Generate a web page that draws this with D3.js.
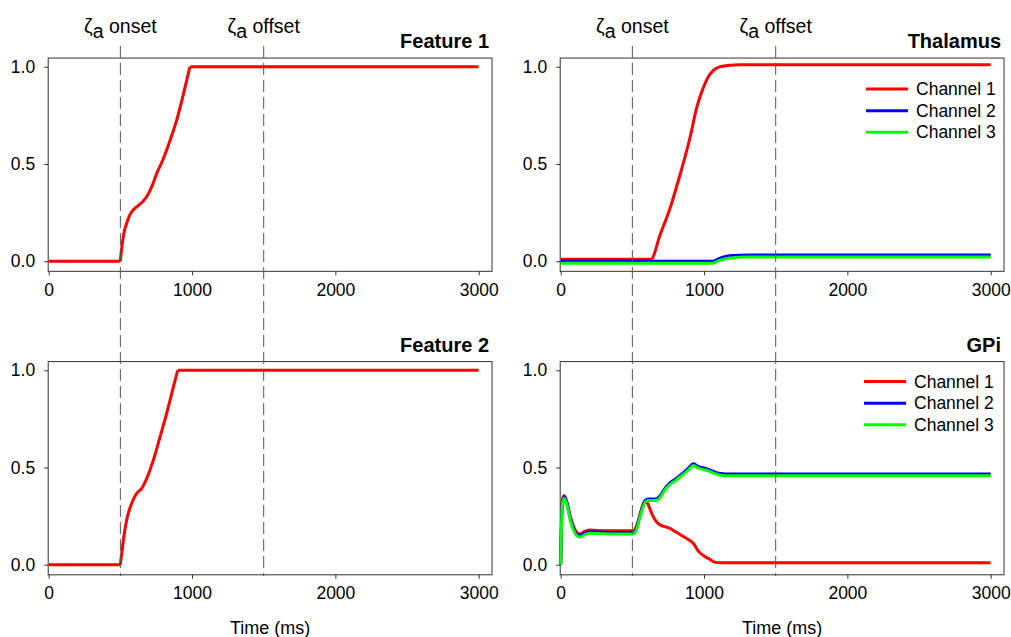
<!DOCTYPE html>
<html>
<head>
<meta charset="utf-8">
<script src="https://cdn.jsdelivr.net/npm/d3@7"></script>
<style>
  body { margin: 0; background: #fff; }
  svg { font-family: "Liberation Sans", Arial, sans-serif; }
</style>
</head>
<body>
<div id="chart"></div>
<script>
// ---- data ----
const timeTicks = [0, 1000, 2000, 3000];
const valueTicks = [0, 0.5, 1.0];
const onsetTime = 500;
const offsetTime = 1500;

const channelNames = ['Channel 1', 'Channel 2', 'Channel 3'];
const channelColors = ['#ff0000', '#0000ff', '#00ff00'];

const feature1Time  = [0, 500, 510, 521, 544, 567, 595, 614, 637, 660, 684, 720, 754, 790, 823, 860, 893, 940, 985, 3000];
const feature1Value = [0, 0, 0.07, 0.13, 0.195, 0.24, 0.268, 0.28, 0.293, 0.31, 0.332, 0.385, 0.452, 0.51, 0.572, 0.65, 0.726, 0.86, 1.0, 1.0];

const feature2Time  = [0, 500, 510, 521, 544, 579, 614, 649, 684, 730, 777, 823, 870, 900, 3000];
const feature2Value = [0, 0, 0.06, 0.127, 0.23, 0.316, 0.367, 0.393, 0.444, 0.538, 0.658, 0.778, 0.915, 1.0, 1.0];

const thalTime1 = [0, 630, 693, 763, 833, 902, 949, 995, 1042, 1080, 1112, 1181, 1250, 3000];
const thalCh1   = [0.01, 0.01, 0.135, 0.273, 0.446, 0.635, 0.79, 0.893, 0.962, 0.99, 1.0, 1.008, 1.01, 1.01];
const thalTime23 = [0, 1065, 1100, 1150, 1200, 1250, 1300, 3000];
const thalCh2   = [0, 0, 0.012, 0.024, 0.029, 0.031, 0.032, 0.032];
const thalCh3   = [-0.01, -0.01, 0.002, 0.013, 0.018, 0.02, 0.021, 0.021];

const gpiTime = [0, 5, 12, 23, 40, 70, 100, 130, 170, 204, 250, 350, 500, 515, 530, 550, 570, 590, 610, 640, 670, 700, 720, 760, 800, 850, 890, 925, 960, 1000, 1040, 1080, 1120, 1160, 1200, 3000];
const gpiCh1 = [0, 0.2, 0.33, 0.356, 0.33, 0.24, 0.18, 0.158, 0.172, 0.179, 0.176, 0.174, 0.174, 0.178, 0.2, 0.25, 0.3, 0.33, 0.31, 0.255, 0.22, 0.202, 0.197, 0.188, 0.17, 0.148, 0.13, 0.11, 0.07, 0.045, 0.028, 0.012, 0.01, 0.01, 0.01, 0.01];
const gpiCh2 = [0, 0.19, 0.32, 0.35, 0.325, 0.23, 0.17, 0.15, 0.163, 0.17, 0.168, 0.166, 0.166, 0.17, 0.19, 0.245, 0.295, 0.33, 0.338, 0.338, 0.34, 0.36, 0.385, 0.42, 0.44, 0.47, 0.495, 0.519, 0.505, 0.498, 0.488, 0.475, 0.469, 0.466, 0.466, 0.466];
const gpiCh3 = [0, 0.18, 0.31, 0.342, 0.317, 0.22, 0.162, 0.142, 0.155, 0.162, 0.16, 0.158, 0.158, 0.162, 0.182, 0.237, 0.287, 0.322, 0.33, 0.33, 0.332, 0.352, 0.377, 0.412, 0.432, 0.462, 0.487, 0.51, 0.497, 0.489, 0.48, 0.467, 0.46, 0.457, 0.457, 0.457];

// ---- layout ----
const W = 1011, H = 637;
const colX0 = [48.7, 560.7];     // pixel of t = 0
const rowY0 = [261.2, 564.7];    // pixel of value = 0
const plotW = 430, unitH = 194.4;
const FONT = '"Liberation Sans", Arial, sans-serif';

const zip = (t, v) => t.map((d, i) => ({ t: d, v: v[i] }));

// feature curves: flat - smooth rise - flat, split so the corners stay sharp
const splitFlat = data => {
  const a = data.findIndex((d, i) => i > 0 && d.v !== data[0].v) - 1;
  const last = data[data.length - 1].v;
  const b = data.findIndex(d => d.v === last);
  return [
    { pts: data.slice(0, a + 1), curve: d3.curveLinear },
    { pts: data.slice(a, b + 1), curve: d3.curveMonotoneX },
    { pts: data.slice(b), curve: d3.curveLinear }
  ];
};

const panels = [
  { col: 0, row: 0, title: 'Feature 1', legend: null, split: true,
    series: [{ data: zip(feature1Time, feature1Value), color: channelColors[0] }] },
  { col: 0, row: 1, title: 'Feature 2', legend: null, split: true,
    series: [{ data: zip(feature2Time, feature2Value), color: channelColors[0] }] },
  { col: 1, row: 0, title: 'Thalamus', legend: { dx: 138, dy: 31 }, split: false,
    series: [
      { data: zip(thalTime1, thalCh1), color: channelColors[0] },
      { data: zip(thalTime23, thalCh2), color: channelColors[1] },
      { data: zip(thalTime23, thalCh3), color: channelColors[2] }
    ] },
  { col: 1, row: 1, title: 'GPi', legend: { dx: 140, dy: 20 }, split: false,
    series: [
      { data: zip(gpiTime, gpiCh1), color: channelColors[0] },
      { data: zip(gpiTime, gpiCh2), color: channelColors[1] },
      { data: zip(gpiTime, gpiCh3), color: channelColors[2] }
    ] }
];

const svg = d3.select('#chart').append('svg')
  .attr('width', W)
  .attr('height', H);

const fmt = d3.format('.1f');

panels.forEach(p => {
  const x = d3.scaleLinear().domain([0, 3000]).range([colX0[p.col], colX0[p.col] + plotW]);
  const y = d3.scaleLinear().domain([0, 1]).range([rowY0[p.row], rowY0[p.row] - unitH]);

  const left = x(0) - 0.5, right = x(3093);
  const top = y(1.045), bottom = y(-0.052);

  const g = svg.append('g');

  // frame
  g.append('rect')
    .attr('x', left).attr('y', top)
    .attr('width', right - left).attr('height', bottom - top)
    .attr('fill', 'none')
    .attr('stroke', '#333')
    .attr('stroke-width', 1);

  // x axis
  const xAxis = g.append('g')
    .attr('transform', 'translate(0,' + bottom + ')')
    .call(d3.axisBottom(x).tickValues(timeTicks).tickSize(4).tickPadding(8).tickFormat(d3.format('d')));
  xAxis.select('.domain').remove();
  xAxis.selectAll('line').attr('stroke', '#333');
  xAxis.selectAll('text').attr('font-size', '17.5px').attr('fill', '#000').attr('font-family', FONT);

  // y axis
  const yAxis = g.append('g')
    .attr('transform', 'translate(' + left + ',0)')
    .call(d3.axisLeft(y).tickValues(valueTicks).tickSize(4).tickPadding(9).tickFormat(fmt));
  yAxis.select('.domain').remove();
  yAxis.selectAll('line').attr('stroke', '#333');
  yAxis.selectAll('text').attr('font-size', '17.5px').attr('fill', '#000').attr('font-family', FONT);

  // title
  g.append('text')
    .attr('x', right - 3)
    .attr('y', top - 10)
    .attr('text-anchor', 'end')
    .attr('font-size', '20px')
    .attr('font-weight', 'bold')
    .attr('fill', '#000')
    .text(p.title);

  // curves
  p.series.forEach(s => {
    const parts = p.split ? splitFlat(s.data) : [{ pts: s.data, curve: d3.curveMonotoneX }];
    parts.forEach(part => {
      const line = d3.line()
        .x(d => x(d.t))
        .y(d => y(d.v))
        .curve(part.curve);
      g.append('path')
        .datum(part.pts)
        .attr('d', line)
        .attr('fill', 'none')
        .attr('stroke', s.color)
        .attr('stroke-width', 3)
        .attr('stroke-linejoin', 'round')
        .attr('stroke-linecap', 'butt');
    });
  });

  // legend
  if (p.legend) {
    const lg = g.append('g');
    channelNames.forEach((name, i) => {
      const ly = top + p.legend.dy + i * 21.6;
      const lx = right - p.legend.dx;
      lg.append('line')
        .attr('x1', lx).attr('x2', lx + 42)
        .attr('y1', ly).attr('y2', ly)
        .attr('stroke', channelColors[i])
        .attr('stroke-width', 3);
      lg.append('text')
        .attr('x', lx + 50)
        .attr('y', ly + 6)
        .attr('font-size', '17.5px')
        .attr('fill', '#000')
        .text(name);
    });
  }

  // x axis title on the bottom row
  if (p.row === 1) {
    g.append('text')
      .attr('x', (left + right) / 2)
      .attr('y', 634)
      .attr('text-anchor', 'middle')
      .attr('font-size', '18px')
      .attr('fill', '#000')
      .text('Time (ms)');
  }
});

// onset / offset markers spanning both rows of each column
[0, 1].forEach(col => {
  const x = d3.scaleLinear().domain([0, 3000]).range([colX0[col], colX0[col] + plotW]);
  const yTop = 46, yBottom = rowY0[1] + unitH * 0.058;

  [onsetTime, offsetTime].forEach((t, i) => {
    svg.append('line')
      .attr('x1', x(t)).attr('x2', x(t))
      .attr('y1', yTop).attr('y2', yBottom)
      .attr('stroke', '#555')
      .attr('stroke-width', 1)
      .attr('stroke-dasharray', '12,5');

    const lbl = svg.append('text')
      .attr('x', x(t))
      .attr('y', 33)
      .attr('text-anchor', 'middle')
      .attr('font-size', '19.5px')
      .attr('fill', '#000');
    lbl.append('tspan').text('\u03B6');
    lbl.append('tspan').attr('dy', 5).text('a');
    lbl.append('tspan').attr('dy', -5).text(i === 0 ? ' onset' : ' offset');
  });
});
</script>
</body>
</html>
